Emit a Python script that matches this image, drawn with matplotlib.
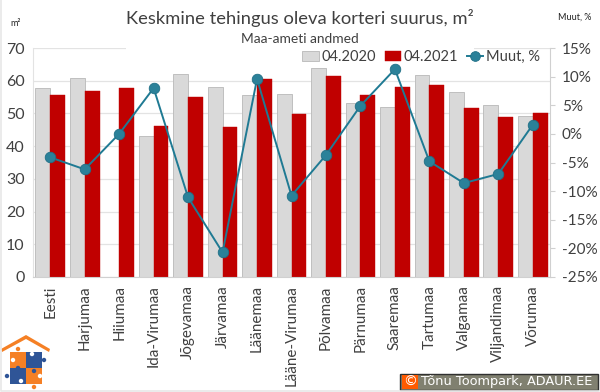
import matplotlib
matplotlib.use('Agg')
import matplotlib.pyplot as plt
import numpy as np
from matplotlib.patches import Rectangle, Polygon, Circle

plt.rcParams['font.family'] = ['Lato', 'DejaVu Sans']

regions = ['Eesti', 'Harjumaa', 'Hiiumaa', 'Ida-Virumaa', 'Jõgevamaa', 'Järvamaa', 'Läänemaa',
           'Lääne-Virumaa', 'Põlvamaa', 'Pärnumaa', 'Saaremaa', 'Tartumaa', 'Valgamaa',
           'Viljandimaa', 'Võrumaa']
size_2020 = [57.9, 60.8, 0, 43.1, 62.0, 58.0, 55.6, 55.9, 63.8, 53.1, 52.1, 61.7, 56.4, 52.5, 49.1]
size_2021 = [55.6, 57.0, 57.7, 46.3, 55.1, 45.9, 60.6, 49.7, 61.5, 55.7, 58.0, 58.7, 51.6, 48.8, 50.0]
change = [-4.1, -6.2, 0.0, 8.0, -11.1, -20.7, 9.6, -10.8, -3.7, 4.9, 11.3, -4.8, -8.6, -7.0, 1.6]

W, H = 600, 392
TEXT = '#404040'
GRID = '#E3E3E3'

fig = plt.figure(figsize=(W / 100, H / 100), dpi=100)
ax = fig.add_axes([33 / W, 1 - 277 / H, 517 / W, 229 / H])

x = np.arange(len(regions))
w = 0.43
ax.bar(x - w / 2, size_2020, w, color='#D9D9D9', edgecolor='#BFBFBF', linewidth=0.7, label='04.2020', zorder=2)
ax.bar(x + w / 2, size_2021, w, color='#C00000', edgecolor='#C00000', linewidth=0.3, label='04.2021', zorder=2)
ax.set_xlim(-0.5, len(regions) - 0.5)
ax.set_ylim(0, 70)
ax.set_yticks(range(0, 71, 10))
ax.set_xticks(x)
ax.set_xticklabels(regions, rotation=90, fontsize=10.9, color=TEXT)
ax.tick_params(axis='x', length=0, pad=6)
ax.tick_params(axis='y', length=0, pad=6, labelsize=11.5, labelcolor=TEXT)
ax.grid(True, axis='y', color=GRID, linewidth=0.9)
ax.set_axisbelow(True)
for s in ['top', 'right']:
    ax.spines[s].set_visible(False)
ax.spines['left'].set_color(GRID)
ax.spines['bottom'].set_color('#D0D0D0')

ax2 = ax.twinx()
line, = ax2.plot(x, change, color='#1F7A93', linewidth=1.4, marker='o', markersize=7.6,
                 markerfacecolor='#2B8199', markeredgecolor='#1F6F86', markeredgewidth=0.6,
                 label='Muut, %', zorder=5)
ax2.set_ylim(-25, 15)
ax2.set_yticks(range(-25, 16, 5))
ax2.set_yticklabels([f'{v}%' for v in range(-25, 16, 5)])
ax2.tick_params(axis='y', length=3.5, width=0.8, color='#D0D0D0', pad=5, labelsize=11, labelcolor=TEXT)
for s in ['top', 'left', 'bottom']:
    ax2.spines[s].set_visible(False)
ax2.spines['right'].set_color('#D0D0D0')

# white title box hides the top gridline
ax.add_patch(Rectangle((126 / W, 1 - 64 / H), 348 / W, 40 / H, transform=fig.transFigure,
                       facecolor='white', edgecolor='none', zorder=1.5, clip_on=False))

fig.text(300 / W, 1 - 18 / H, 'Keskmine tehingus oleva korteri suurus, m²', ha='center', va='center',
         fontsize=13.2, color=TEXT)
fig.text(300 / W, 1 - 39 / H, 'Maa-ameti andmed', ha='center', va='center', fontsize=9.9, color=TEXT)
fig.text(16 / W, 1 - 23 / H, 'm²', ha='center', va='center', fontsize=6.5, color='#202020')
fig.text(575 / W, 1 - 17 / H, 'Muut, %', ha='center', va='center', fontsize=6.5, color='#202020')

handles = ax.get_legend_handles_labels()[0] + [line]
labels = ['04.2020', '04.2021', 'Muut, %']
leg = fig.legend(handles, labels, loc='center', bbox_to_anchor=(421 / W, 1 - 57 / H), ncol=3, frameon=False,
                 fontsize=10.5, labelcolor=TEXT, handlelength=1.15, handleheight=0.75, handletextpad=0.15,
                 columnspacing=0.6, borderpad=0)
leg.legend_handles[2].set_markersize(7)

# overlay in pixel coordinates for the logo, credit box and image edge
ov = fig.add_axes([0, 0, 1, 1], zorder=10)
ov.set_xlim(0, W)
ov.set_ylim(H, 0)
ov.axis('off')
ov.patch.set_alpha(0)

ov.plot([1, 1, 599], [0, 391, 391], color='#E8E8E8', linewidth=1.2)

ORANGE = '#F58025'
BLUE = '#2F5597'
ov.add_patch(Rectangle((2, 333), 50, 57, facecolor='white', edgecolor='none'))
ov.add_patch(Polygon([(1, 349), (26, 335), (50, 349), (49, 352), (26, 339), (2, 352)], facecolor=ORANGE, edgecolor='none'))
ov.add_patch(Rectangle((10, 352), 16, 16, facecolor=ORANGE, edgecolor='none'))
ov.add_patch(Rectangle((26, 352), 16, 16, facecolor=BLUE, edgecolor='none'))
ov.add_patch(Rectangle((10, 368), 16, 16, facecolor=BLUE, edgecolor='none'))
ov.add_patch(Rectangle((26, 368), 16, 16, facecolor=ORANGE, edgecolor='none'))
for cx, cy, c in [(18, 349, ORANGE), (44, 360, BLUE), (7, 376, BLUE), (34, 387, ORANGE),
                  (18, 368, BLUE), (34, 371, BLUE)]:
    ov.add_patch(Circle((cx, cy), 2.2, facecolor=c, edgecolor='none'))
for cx, cy in [(13, 360), (32, 354), (21, 381), (40, 376)]:
    ov.add_patch(Circle((cx, cy), 2.2, facecolor='white', edgecolor='none'))

ov.add_patch(Rectangle((399.5, 373.5), 198.5, 16.5, facecolor='#808070', edgecolor='#303030', linewidth=1))
ov.add_patch(Rectangle((402, 375), 16, 14, facecolor='#FF5A00', edgecolor='none'))
ov.text(410, 381.5, '©', color='white', fontsize=10, ha='center', va='center', family='DejaVu Sans')
ov.text(421, 381.5, 'Tõnu Toompark, ADAUR.EE', color='white', fontsize=9.3, ha='left', va='center',
        family='DejaVu Sans')

fig.savefig('out.png', dpi=100)
